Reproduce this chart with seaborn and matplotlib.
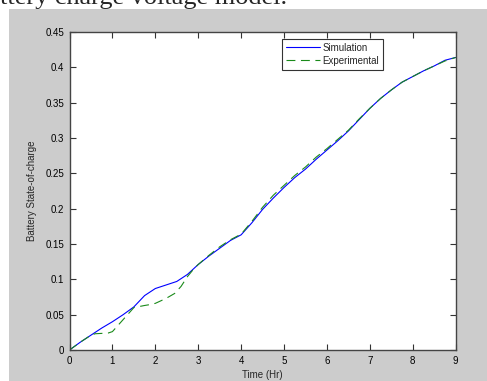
import matplotlib
matplotlib.use("Agg")
import matplotlib.pyplot as plt
import seaborn as sns
import pandas as pd
from matplotlib.patches import Rectangle

# ---- data ----
sim_time = [0, 0.25, 0.5, 0.75, 1.0, 1.25, 1.5, 1.75, 2.0, 2.25, 2.5, 2.75, 3.0, 3.25,
            3.5, 3.75, 4.0, 4.25, 4.5, 4.75, 5.0, 5.25, 5.5, 5.75, 6.0, 6.25, 6.5,
            6.75, 7.0, 7.25, 7.5, 7.75, 8.0, 8.25, 8.5, 8.75, 9.0]
sim_soc = [0, 0.011, 0.021, 0.031, 0.040, 0.050, 0.061, 0.077, 0.087, 0.092, 0.097,
           0.107, 0.121, 0.133, 0.144, 0.155, 0.163, 0.180, 0.199, 0.215, 0.230,
           0.244, 0.256, 0.270, 0.283, 0.296, 0.310, 0.326, 0.342, 0.356, 0.368,
           0.379, 0.387, 0.395, 0.402, 0.410, 0.414]
exp_time = [0, 0.25, 0.5, 0.6, 0.9, 1.0, 1.25, 1.5, 1.75, 1.85, 2.0, 2.25, 2.45, 2.6,
            2.75, 2.9, 3.0, 3.25, 3.5, 3.75, 4.0, 4.25, 4.5, 4.75, 5.0, 5.25, 5.5,
            5.75, 6.0, 6.25, 6.5, 6.75, 7.0, 7.25, 7.5, 7.75, 8.0, 8.25, 8.5, 8.75, 9.0]
exp_soc = [0, 0.011, 0.021, 0.023, 0.024, 0.026, 0.043, 0.060, 0.063, 0.064, 0.066,
           0.073, 0.080, 0.090, 0.104, 0.115, 0.121, 0.134, 0.146, 0.156, 0.164,
           0.182, 0.202, 0.219, 0.233, 0.247, 0.259, 0.273, 0.285, 0.298, 0.311,
           0.327, 0.342, 0.356, 0.368, 0.379, 0.387, 0.395, 0.402, 0.409, 0.414]
series_names = ["Simulation", "Experimental"]
x_ticks = list(range(0, 10))
y_ticks = [0, 0.05, 0.1, 0.15, 0.2, 0.25, 0.3, 0.35, 0.4, 0.45]
y_tick_labels = ["0", "0.05", "0.1", "0.15", "0.2", "0.25", "0.3", "0.35", "0.4", "0.45"]
x_label = "Time (Hr)"
y_label = "Battery State-of-charge"
caption = "ttery charge voltage model."

df = pd.concat([
    pd.DataFrame({"t": sim_time, "soc": sim_soc, "series": series_names[0]}),
    pd.DataFrame({"t": exp_time, "soc": exp_soc, "series": series_names[1]}),
], ignore_index=True)

sns.set_style("ticks")
plt.rcParams["font.family"] = ["Liberation Sans", "DejaVu Sans"]

W, H = 487, 381
fig = plt.figure(figsize=(W / 100, H / 100), dpi=100)
fig.patch.set_facecolor("white")
fig.patches.append(Rectangle((9 / W, 0), 1 - 9 / W, (H - 9) / H, transform=fig.transFigure,
                             facecolor="#cccccc", edgecolor="none", zorder=-10))

ax = fig.add_axes([69.5 / W, (H - 350) / H, (455.7 - 69.5) / W, (350 - 32) / H])
ax.set_facecolor("white")

sns.lineplot(data=df, x="t", y="soc", hue="series", style="series",
             palette={"Simulation": "#0000ff", "Experimental": "#1a8a1a"},
             dashes={"Simulation": "", "Experimental": (8, 5)},
             linewidth=0.8, ax=ax, sort=False, estimator=None)

ax.set_xlim(0, 9)
ax.set_ylim(0, 0.45)
ax.set_xticks(x_ticks)
ax.set_yticks(y_ticks)
ax.set_yticklabels(y_tick_labels)
ax.tick_params(direction="in", length=4, width=0.8, colors="#333333",
               labelcolor="black", labelsize=7, top=True, right=True, pad=4)
for s in ax.spines.values():
    s.set_visible(True)
    s.set_color("#444444")
    s.set_linewidth(1.0)
ax.set_xlabel(x_label, fontsize=7, labelpad=3)
ax.set_ylabel(y_label, fontsize=7, labelpad=6)

leg = ax.legend(loc="upper left", bbox_to_anchor=(0.55, 0.978), borderaxespad=0,
                fontsize=7, frameon=True, fancybox=False, handlelength=3.5,
                handletextpad=0.3, borderpad=0.4, labelspacing=0.3, title=None)
leg.get_frame().set_edgecolor("black")
leg.get_frame().set_linewidth(0.8)
for line in leg.get_lines():
    line.set_linewidth(0.8)

# caption (cropped at the top, as in the reference)
txt = fig.text(0, 1 - 4 / H, caption, fontsize=17, family="Liberation Serif",
               va="baseline", ha="left")
fig.canvas.draw()
bb = txt.get_window_extent()
txt.set_fontsize(17 * 287 / bb.width)

fig.savefig("out.png", dpi=100)
